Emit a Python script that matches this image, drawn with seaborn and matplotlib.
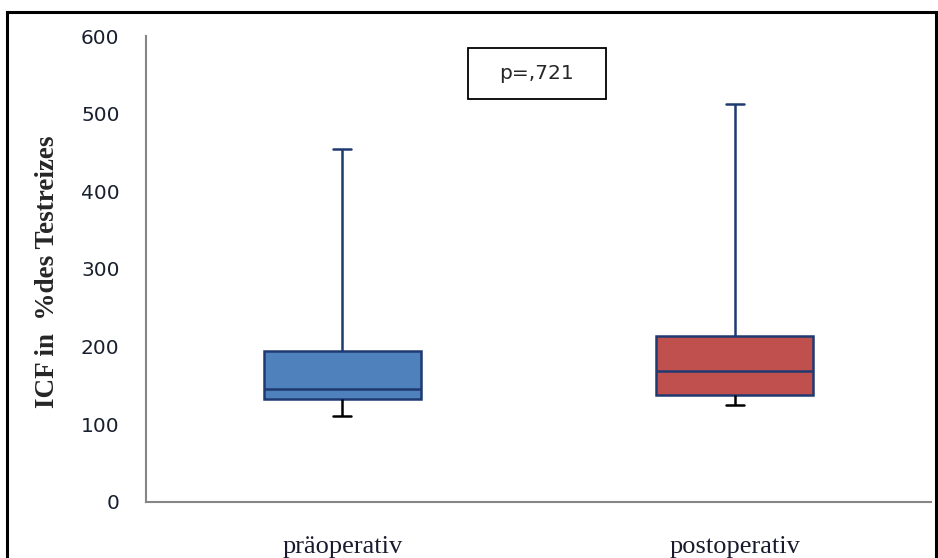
import matplotlib
matplotlib.use("Agg")
import matplotlib.pyplot as plt
import pandas as pd
import seaborn as sns
from matplotlib.patches import Rectangle

# five-number summaries (min, q1, median, q3, max)
groups = ["präoperativ", "postoperativ"]
pre_vals = [111, 132, 145, 194, 454]
post_vals = [124, 137, 168, 214, 512]
colors = ["#4F81BD", "#C0504D"]
p_text = "p=,721"
y_label = "ICF in  %des Testreizes"

df = pd.DataFrame({
    "gruppe": [groups[0]] * len(pre_vals) + [groups[1]] * len(post_vals),
    "wert": pre_vals + post_vals,
})

sns.set_style("white")
fig = plt.figure(figsize=(9.38, 5.58), dpi=100)
ax = fig.add_axes([146 / 938, 1 - 501.7 / 558, 785 / 938, 465.7 / 558])

# 5 points each -> percentiles 25/50/75 hit the values exactly
sns.boxplot(data=df, x="gruppe", y="wert", hue="gruppe", palette=colors,
            order=groups, whis=(0, 100), width=0.4, linecolor="#1F3A70",
            linewidth=1.8, saturation=1, legend=False, ax=ax, capwidths=0.045)

# lower whisker + cap drawn black like the original
q1s = [pre_vals[1], post_vals[1]]
for line in ax.lines:
    yd = list(line.get_ydata())
    xd = list(line.get_xdata())
    if len(yd) == 0:
        continue
    idx = 0 if sum(xd) / len(xd) < 0.5 else 1
    if max(yd) <= q1s[idx]:
        line.set_color("black")

ax.set_ylim(0, 600)
ax.set_xlim(-0.5, 1.5)
ax.set_yticks([0, 100, 200, 300, 400, 500, 600])
ax.set_xticks([0, 1])
ax.set_xticklabels(groups, family="Liberation Serif", fontsize=19, color="#1a1a2e")
ax.set_xticks([-0.5, 0.5, 1.5], minor=True)
ax.tick_params(axis="x", which="major", length=0, pad=25)
ax.tick_params(axis="x", which="minor", length=7, width=1.3, color="#868686", direction="out")
ax.tick_params(axis="y", length=7, width=1.3, color="#868686", direction="out",
               labelsize=14.5, labelcolor="#18202e", pad=12)
for lab in ax.get_yticklabels():
    lab.set_family("DejaVu Sans")

ax.set_xlabel("")
ax.set_ylabel(y_label, family="Liberation Serif", fontweight="bold", fontsize=19.5)
ax.yaxis.set_label_coords((48 - 146) / 785, 0.494)
ax.yaxis.label.set_va("center")

for side in ["top", "right"]:
    ax.spines[side].set_visible(False)
for side in ["left", "bottom"]:
    ax.spines[side].set_color("#868686")
    ax.spines[side].set_linewidth(1.5)

# p value box
ax.add_patch(Rectangle((0.410, 0.8647), 0.1758, 0.1095, transform=ax.transAxes,
                       facecolor="white", edgecolor="black", lw=1.3, zorder=5))
ax.text(0.410 + 0.1758 / 2, 0.8647 + 0.1095 / 2, p_text, transform=ax.transAxes,
        ha="center", va="center", fontsize=14.5, family="DejaVu Sans", zorder=6)

# outer chart frame
fig.patches.append(Rectangle((7 / 938, -0.05), 929 / 938, 1 - 12 / 558 + 0.05,
                             transform=fig.transFigure, fill=False,
                             edgecolor="black", lw=2.2))

fig.savefig("out.png", dpi=100)
